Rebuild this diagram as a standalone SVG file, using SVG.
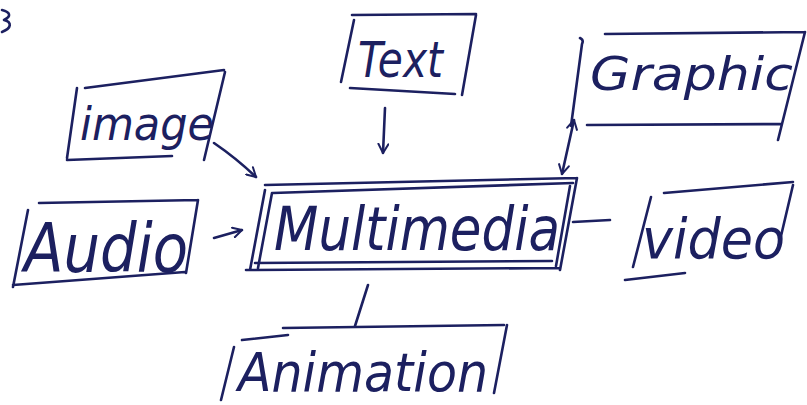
<svg xmlns="http://www.w3.org/2000/svg" width="807" height="405" viewBox="0 0 807 405">
<style>
.ink{fill:none;stroke:#1c2060;stroke-width:2.6;stroke-linecap:round;stroke-linejoin:round}
.lbl{fill:#1c2060;font-family:"DejaVu Sans","Liberation Sans",sans-serif;font-style:italic;font-weight:200}
</style>
<defs>
<marker id="ah" viewBox="0 0 12 12" refX="10" refY="6" markerWidth="12" markerHeight="12" markerUnits="userSpaceOnUse" orient="auto-start-reverse">
<path d="M1,1 L10,6 L1,11" fill="none" stroke="#1c2060" stroke-width="2" stroke-linecap="round" stroke-linejoin="round"/>
</marker>
</defs>
<rect width="807" height="405" fill="#ffffff"/>
<path class="ink" d="M2,10 C10,12 12,16 4,20 C12,22 12,28 2,32"/>
<g id="text-node">
<path class="ink" d="M352,15 L476,14 M354,20 L341,82 M476,15 L462,95 M350,88 L455,94"/>
<text class="lbl" x="358" y="77" font-size="50" textLength="85" lengthAdjust="spacingAndGlyphs">Text</text>
</g>
<g id="graphic-node">
<path class="ink" d="M605,34 L805,32 M580,38 Q584,40 582,44 L571,126 M587,125 L782,124 M805,32 L778,140"/>
<text class="lbl" x="590" y="90" font-size="46" textLength="203" lengthAdjust="spacingAndGlyphs">Graphic</text>
</g>
<g id="image-node">
<path class="ink" d="M85,88 L224,70 M77,88 L67,158 M225,72 L204,160 M67,160 L172,156"/>
<text class="lbl" x="80" y="140" font-size="46" textLength="134" lengthAdjust="spacingAndGlyphs">image</text>
</g>
<g id="audio-node">
<path class="ink" d="M39,203 L198,200 M28,210 L13,287 M198,200 L186,273 M13,285 L185,272"/>
<text class="lbl" x="24" y="272" font-size="68" textLength="164" lengthAdjust="spacingAndGlyphs">Audio</text>
</g>
<g id="multimedia-node">
<path class="ink" d="M265,185 L577,178 M273,193 L573,183 M265,190 L250,270 M272,193 L258,268 M577,178 L560,270 M570,186 L556,266 M246,270 L560,268 M255,263 L552,261"/>
<text class="lbl" x="274" y="250" font-size="60" textLength="286" lengthAdjust="spacingAndGlyphs">Multimedia</text>
</g>
<g id="video-node">
<path class="ink" d="M664,193 L793,182 M651,197 L633,267 M793,185 L777,253 M625,280 L685,273"/>
<text class="lbl" x="642" y="258" font-size="56" textLength="143" lengthAdjust="spacingAndGlyphs">video</text>
</g>
<g id="animation-node">
<path class="ink" d="M283,328 L504,325 M242,340 L288,335 M234,347 L221,400 M507,325 L494,393"/>
<text class="lbl" x="238" y="391" font-size="54" textLength="250" lengthAdjust="spacingAndGlyphs">Animation</text>
</g>
<g id="connectors">
<path class="ink" d="M385,108 L383,153" marker-end="url(#ah)"/>
<path class="ink" d="M214,143 Q236,158 256,177" marker-end="url(#ah)"/>
<path class="ink" d="M214,238 L242,230" marker-end="url(#ah)"/>
<path class="ink" d="M574,120 L562,174" marker-start="url(#ah)" marker-end="url(#ah)"/>
<path class="ink" d="M573,222 L610,220"/>
<path class="ink" d="M368,285 L355,326"/>
</g>
</svg>
